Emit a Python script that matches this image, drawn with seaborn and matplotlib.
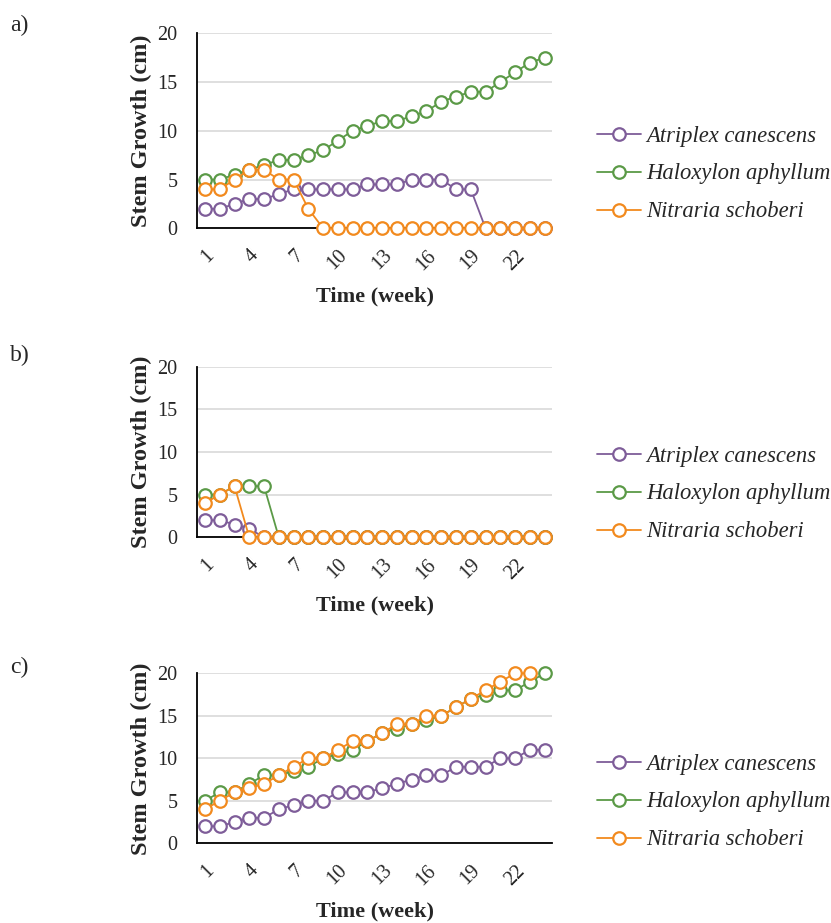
import matplotlib
matplotlib.use('Agg')
import matplotlib.pyplot as plt
import numpy as np
import pandas as pd
import seaborn as sns

weeks = list(range(1, 25))
species = ['Atriplex canescens', 'Haloxylon aphyllum', 'Nitraria schoberi']
colors = ['#7e5d99', '#5b9a47', '#f28a1e']
tick_weeks = [1, 4, 7, 10, 13, 16, 19, 22]

# panel a)
a_atriplex = [2, 2, 2.5, 3, 3, 3.5, 4, 4, 4, 4, 4, 4.5, 4.5, 4.5, 5, 5, 5, 4, 4, 0, 0, 0, 0, 0]
a_haloxylon = [5, 5, 5.5, 6, 6.5, 7, 7, 7.5, 8, 9, 10, 10.5, 11, 11, 11.5, 12, 13, 13.5, 14, 14, 15, 16, 17, 17.5]
a_nitraria = [4, 4, 5, 6, 6, 5, 5, 2, 0, 0, 0, 0, 0, 0, 0, 0, 0, 0, 0, 0, 0, 0, 0, 0]

# panel b)
b_atriplex = [2, 2, 1.5, 1, 0, 0, 0, 0, 0, 0, 0, 0, 0, 0, 0, 0, 0, 0, 0, 0, 0, 0, 0, 0]
b_haloxylon = [5, 5, 6, 6, 6, 0, 0, 0, 0, 0, 0, 0, 0, 0, 0, 0, 0, 0, 0, 0, 0, 0, 0, 0]
b_nitraria = [4, 5, 6, 0, 0, 0, 0, 0, 0, 0, 0, 0, 0, 0, 0, 0, 0, 0, 0, 0, 0, 0, 0, 0]

# panel c)
c_atriplex = [2, 2, 2.5, 3, 3, 4, 4.5, 5, 5, 6, 6, 6, 6.5, 7, 7.5, 8, 8, 9, 9, 9, 10, 10, 11, 11]
c_haloxylon = [5, 6, 6, 7, 8, 8, 8.5, 9, 10, 10.5, 11, 12, 13, 13.5, 14, 14.5, 15, 16, 17, 17.5, 18, 18, 19, 20]
c_nitraria = [4, 5, 6, 6.5, 7, 8, 9, 10, 10, 11, 12, 12, 13, 14, 14, 15, 15, 16, 17, 18, 19, 20, 20, np.nan]

panels = [
    ('a)', [a_atriplex, a_haloxylon, a_nitraria]),
    ('b)', [b_atriplex, b_haloxylon, b_nitraria]),
    ('c)', [c_atriplex, c_haloxylon, c_nitraria]),
]

W, H = 831, 923
# axes boxes in pixels: left, top (y=20), right, bottom (y=0)
boxes = [(197, 33.3, 552, 228.3), (197, 366.7, 552, 537.3), (197, 673.3, 552, 843.3)]
legend_centers = [174, 494, 802]
label_y = [25, 355, 667]

sns.set_style('white')
plt.rcParams['font.family'] = ['Liberation Serif', 'DejaVu Serif']

fig = plt.figure(figsize=(W / 100, H / 100), dpi=100)

for (tag, series), (l, t, r, b), lc, ly in zip(panels, boxes, legend_centers, label_y):
    ax = fig.add_axes([l / W, 1 - b / H, (r - l) / W, (b - t) / H])
    df = pd.DataFrame({'week': weeks})
    for name, vals, col in zip(species, series, colors):
        df[name] = vals
        sns.lineplot(data=df, x='week', y=name, ax=ax, color=col, linewidth=1.3,
                     marker='o', markersize=9, markerfacecolor='white',
                     markeredgecolor=col, markeredgewidth=1.6, label=name,
                     zorder=3, clip_on=False, legend=False)
    ax.set_xlim(0.46, 24.5)
    ax.set_ylim(0, 20)
    ax.set_yticks([0, 5, 10, 15, 20])
    ax.set_xticks(tick_weeks)
    ax.set_xticklabels([str(w) for w in tick_weeks], rotation=45, ha='right',
                       rotation_mode='anchor')
    ax.yaxis.grid(True, color='#d9d9d9', linewidth=1.2, zorder=0)
    ax.set_axisbelow(True)
    for s in ['top', 'right']:
        ax.spines[s].set_visible(False)
    for s in ['left', 'bottom']:
        ax.spines[s].set_color('black')
        ax.spines[s].set_linewidth(1.3)
    ax.tick_params(axis='y', direction='out', length=5, width=1.3, color='black',
                   labelsize=14.5, pad=9)
    ax.tick_params(axis='x', length=0, labelsize=14.5, pad=13)
    ax.set_ylabel('Stem Growth (cm)', fontsize=17.5, fontweight='bold')
    ax.set_xlabel('Time (week)', fontsize=16, fontweight='bold')
    ax.yaxis.set_label_coords(-45 / (r - l), 0.5)
    ax.xaxis.set_label_coords(0.5, -58 / (b - t))

    handles, labels = ax.get_legend_handles_labels()
    fig.legend(handles, labels, loc='center left', bbox_to_anchor=(597 / W, 1 - lc / H),
               frameon=False, prop={'style': 'italic', 'size': 16.3}, handlelength=1.95,
               handletextpad=0.22, labelspacing=0.75, borderpad=0, borderaxespad=0)
    fig.text(10 / W, 1 - ly / H, tag, fontsize=17, va='center', ha='left')

fig.savefig('out.png', dpi=100)
